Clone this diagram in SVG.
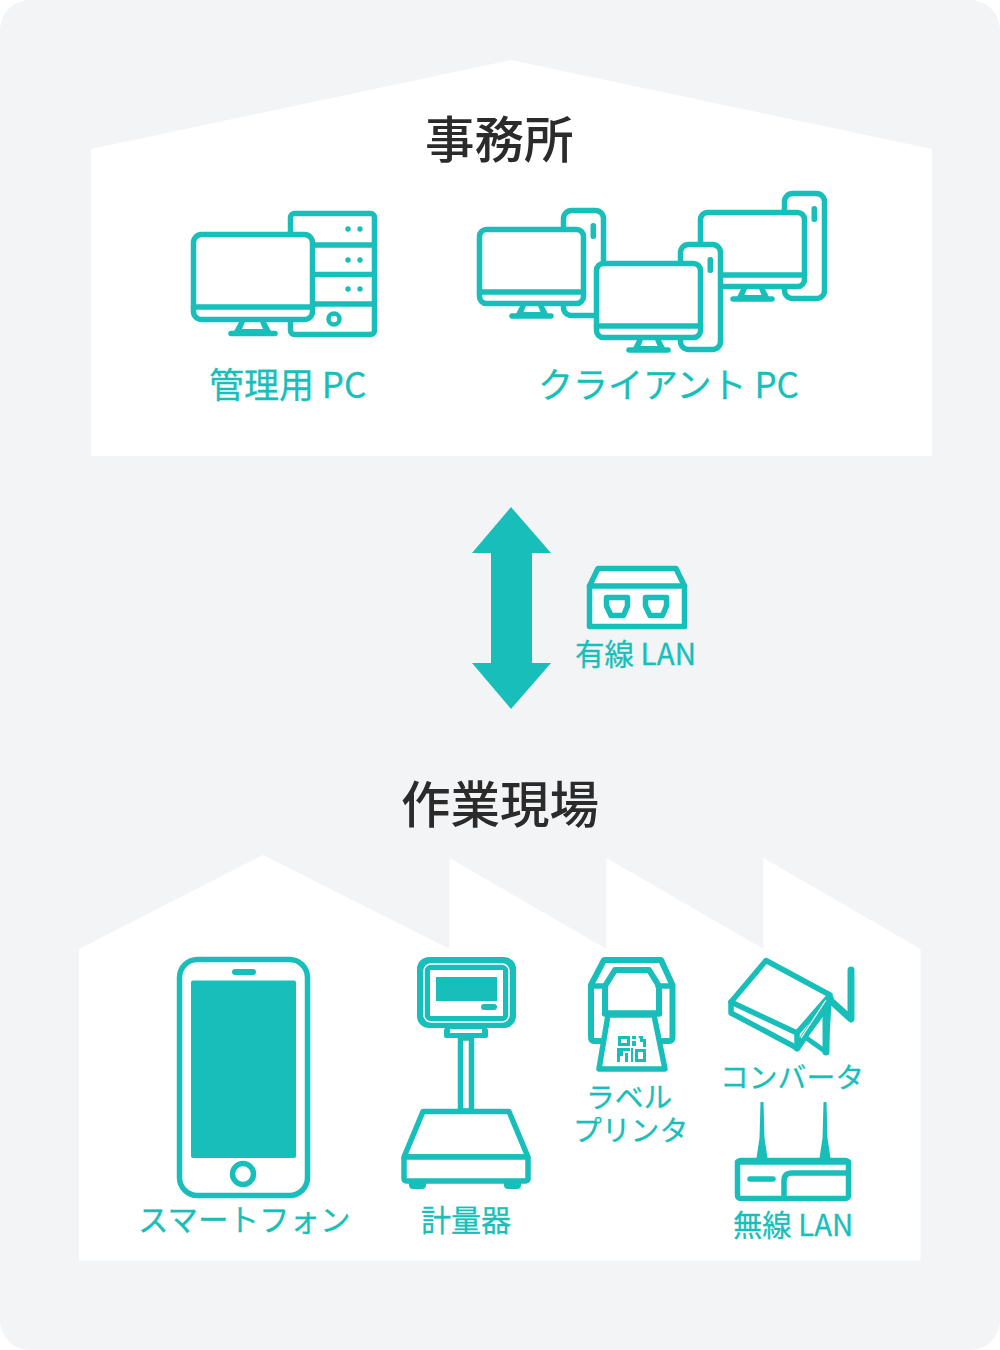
<svg xmlns="http://www.w3.org/2000/svg" width="1000" height="1350" viewBox="0 0 1000 1350">
<style>
.s{fill:none;stroke:#18bfba;stroke-width:5.500;stroke-linejoin:round;stroke-linecap:round}
.w{fill:#fff;stroke:#18bfba;stroke-width:5.500;stroke-linejoin:round;stroke-linecap:round}
.f{fill:#18bfba}
.t{fill:#18bfba;stroke:#18bfba;stroke-width:.3px;font-family:"Noto Sans CJK JP","Noto Sans",sans-serif;font-size:35px;font-weight:400}
.m{font-size:30px}
.n{font-size:28.800px}
.h{fill:#2b2b2b;font-family:"Noto Sans CJK JP","Noto Sans",sans-serif;font-size:49.500px;font-weight:500}
</style>
<defs>
<g id="client">
<rect class="w" x="563.500" y="210.500" width="40" height="105" rx="8"/>
<rect class="f" x="590.500" y="223" width="5.500" height="16" rx="2.500"/>
<path class="f" d="M520 306h24l5 10h-34z"/>
<path d="M526 306h12l2.500 6h-17z" fill="#fff"/>
<path class="s" d="M512 316H551"/>
<rect class="w" x="479.500" y="229.500" width="104" height="74" rx="7"/>
<path class="s" d="M479.500 292H583.500"/>
</g>
</defs>
<rect width="1000" height="1350" fill="#fff"/>
<rect id="background" width="1000" height="1350" rx="30" fill="#f2f4f6"/>
<path id="office" d="M91 149 511 60 932 149V456H91Z" fill="#fff"/>
<path id="factory" d="M79 949 263 855 449.500 949V858L606.500 949V858L763.500 949V858L920.500 949V1260.500H79Z" fill="#fff"/>
<text class="h" x="425" y="158">事務所</text>
<text class="h" x="401" y="823">作業現場</text>

<g id="admin-pc">
<rect class="w" x="290.500" y="213.500" width="84" height="121" rx="4"/>
<path class="s" d="M290.500 245H374.500M290.500 274.500H374.500M290.500 304H374.500"/>
<g class="f"><circle cx="348" cy="229" r="2.700"/><circle cx="360" cy="229" r="2.700"/><circle cx="348" cy="260" r="2.700"/><circle cx="360" cy="260" r="2.700"/><circle cx="348" cy="289" r="2.700"/><circle cx="360" cy="289" r="2.700"/></g>
<circle cx="334" cy="319" r="5.500" fill="none" stroke="#18bfba" stroke-width="4.500"/>
<path class="f" d="M239 322h27l6 11h-39z"/>
<path d="M245 322h15l3 7h-21z" fill="#fff"/>
<path class="s" d="M231 333.500H275"/>
<rect class="w" x="193.500" y="234.500" width="119" height="85" rx="8"/>
<path class="s" d="M193.500 307H312.500"/>
<text class="t" x="209" y="398">管理用 PC</text>
</g>

<g id="client-pc">
<use href="#client"/>
<use href="#client" x="221" y="-17"/>
<use href="#client" x="117" y="34"/>
<text class="t" x="538" y="398">クライアント PC</text>
</g>

<path id="link-arrow" class="f" d="M511 507 551 553H532V663H551L511 709 472 663H491V553H472Z"/>

<g id="wired-lan">
<path class="w" d="M589.500 586 598 568.500H676L684.500 586V626.500H589.500Z"/>
<path class="s" d="M589.500 586H684.500"/>
<path class="s" d="M606.500 597.500H627.500V606L623.500 615.500H611L606.500 606Z"/>
<path class="s" d="M645.500 597.500H666.500V606L662.500 615.500H650L645.500 606Z"/>
<text class="t" style="font-size:29.500px" x="575" y="665">有線 LAN</text>
</g>

<g id="smartphone">
<rect class="w" x="179.500" y="959.500" width="128" height="236" rx="18"/>
<rect class="f" x="232" y="969" width="24" height="6" rx="3"/>
<rect class="f" x="191" y="980.500" width="105" height="177.500" rx="2"/>
<circle cx="243" cy="1174" r="10.500" fill="none" stroke="#18bfba" stroke-width="5.500"/>
<text class="t" style="font-size:30.500px" x="138" y="1231">スマートフォン</text>
</g>

<g id="scale">
<rect class="f" x="417" y="957" width="99" height="71" rx="12"/>
<rect x="424" y="964" width="85" height="58" rx="7" fill="none" stroke="#fff" stroke-width="1.500"/>
<rect x="430" y="970" width="73" height="46" fill="#fff"/>
<rect class="f" x="436" y="977" width="61" height="24"/>
<rect class="f" x="481" y="1004" width="16" height="6" rx="3"/>
<rect class="f" x="444" y="1028" width="44" height="10" rx="2"/>
<rect x="450" y="1029" width="32" height="4" fill="#fff"/>
<rect class="w" x="460.500" y="1038" width="11" height="73" style="stroke-linecap:butt"/>
<path class="w" d="M423 1111.500H509L528 1157H404Z"/>
<rect class="w" x="404" y="1157" width="124" height="24" rx="2"/>
<path class="f" d="M409 1183h17v2a4 4 0 0 1-4 4h-9a4 4 0 0 1-4-4zM504 1183h17v2a4 4 0 0 1-4 4h-9a4 4 0 0 1-4-4z"/>
<text class="t m" x="421" y="1231">計量器</text>
</g>

<g id="label-printer">
<path class="s" style="stroke-width:6" d="M604 1041H594Q591 1041 591 1037V985L604 960H661L672.500 985V1037Q672.500 1041 669 1041H660"/>
<path class="s" d="M591 986H605M658 986H672"/>
<path class="s" style="stroke-width:6" d="M605 1012V986L615 970H649L659 986V1012"/>
<path class="s" style="stroke-width:6.500" d="M605 1013.500H659"/>
<path class="w" d="M608 1015H654L665 1069H599Z"/>
<g class="f">
<path fill-rule="evenodd" d="M618 1036h12v10h-12zM621 1039v4h6v-4z"/>
<path d="M632 1036h4v3h-4zM638 1036h5v3h3v8h-3v-5h-3v-3zM632 1041h4v5h-4z"/>
<path d="M617 1048h13v3h-7v5h-3v6h-3zM625 1053h3v9h-3zM631 1048h2v14h-2z"/>
<path fill-rule="evenodd" d="M635 1049h11v13h-11zM638 1052v7h5v-7z"/>
</g>
<text class="t n" x="586" y="1108">ラベル</text>
<text class="t n" x="573" y="1141">プリンタ</text>
</g>

<g id="converter">
<path class="s" style="stroke-width:7" d="M830 1000 851 1019V970"/>
<path class="w" d="M766 960.500 830 995 797 1033 731 1002Z"/>
<path class="s" d="M731 1002V1013L797 1048"/>
<path class="s" style="stroke-width:7" d="M797 1048 830 998"/>
<path class="s" d="M797 1033V1048"/>
<path class="w" style="stroke-width:5" d="M829 1004 826 1052 805 1037Z"/>
<path d="M826 1005 826 1052" class="s" style="stroke-width:7"/>
<path d="M801 1038 826 1000" stroke="#fff" stroke-width="1.200"/>
<text class="t n" x="720" y="1088">コンバータ</text>
</g>

<g id="wireless-lan">
<path class="f" d="M760.500 1102h3l1 36 3 20h-11l3-20zM823.500 1102h3l1 36 3 20h-11l3-20z"/>
<rect class="w" x="737.500" y="1160.500" width="111" height="38" rx="3"/>
<path class="s" d="M737.500 1162H848.500"/>
<path class="s" d="M750 1179H773"/>
<path class="s" d="M784 1198V1181Q784 1173 792 1173H848"/>
<text class="t" style="font-size:29.300px" x="733" y="1236">無線 LAN</text>
</g>
</svg>
